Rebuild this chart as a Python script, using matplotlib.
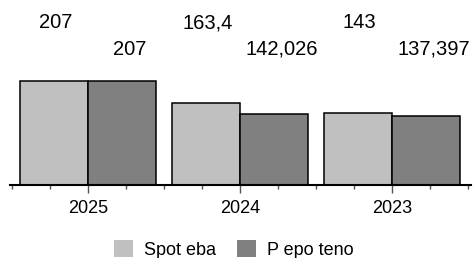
import matplotlib.pyplot as plt
from matplotlib.patches import Patch
import numpy as np

plt.rcParams['font.family'] = ['Liberation Sans', 'DejaVu Sans']

# data
years = ['2025', '2024', '2023']
spot = [207, 163.4, 143]
prep = [207, 142.026, 137.397]
spot_labels = ['207', '163,4', '143']
prep_labels = ['207', '142,026', '137,397']
series_names = ['Spot eba', 'P epo teno']

light = '#c0c0c0'
dark = '#808080'

fig = plt.figure(figsize=(4.73, 2.58), dpi=100)
ax = fig.add_axes([10 / 473, 73 / 258, 461 / 473, 185 / 258])

x = np.arange(len(years))
w = 0.45
ax.bar(x - w / 2, spot, w, color=light, edgecolor='black', linewidth=1.1)
ax.bar(x + w / 2, prep, w, color=dark, edgecolor='black', linewidth=1.1)

#value labels sit in two fixed rows above the bars
for i in range(len(years)):
    ax.text(x[i] - w / 2 + 0.012, 0.847, spot_labels[i], transform=ax.get_xaxis_transform(),
            ha='center', va='baseline', fontsize=14.5)
    ax.text(x[i] + w / 2 + 0.05, 0.703, prep_labels[i], transform=ax.get_xaxis_transform(),
            ha='center', va='baseline', fontsize=14.5)

ax.set_xlim(-0.513, 2.52)
ax.set_ylim(0, 368)
ax.set_xticks(x)
ax.set_xticklabels(years, fontsize=13)
ax.set_xticks(np.arange(-0.5, 2.6, 0.25), minor=True)
ax.tick_params(axis='x', which='major', length=6, width=1, color='#555555', pad=5)
ax.tick_params(axis='x', which='minor', length=3, width=1, color='#555555')
ax.set_yticks([])
for s in ['left', 'right', 'top']:
    ax.spines[s].set_visible(False)
ax.spines['bottom'].set_linewidth(1.5)

handles = [Patch(facecolor=light, edgecolor='none'), Patch(facecolor=dark, edgecolor='none')]
fig.legend(handles, series_names, loc='center', bbox_to_anchor=(0.494, 0.033), ncol=2,
           frameon=False, fontsize=13, handlelength=1.05, handleheight=1.05,
           handletextpad=0.6, columnspacing=1.2, borderpad=0)

fig.savefig('out.png', dpi=100)
